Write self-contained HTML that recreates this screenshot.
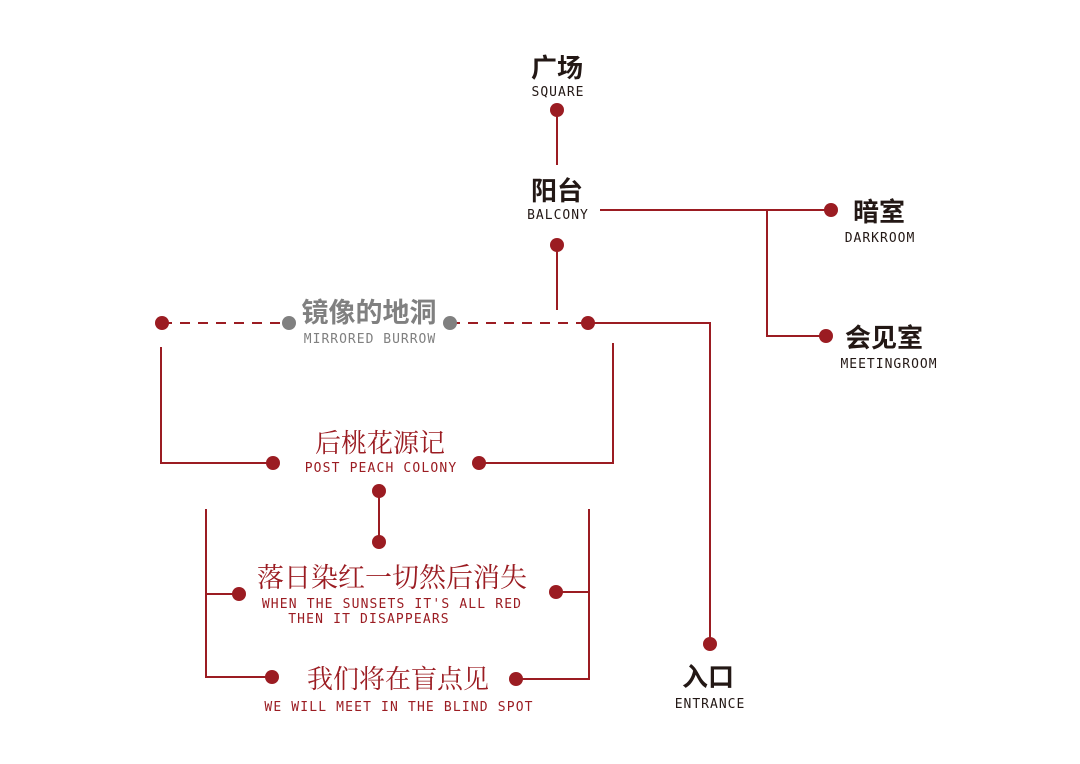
<!DOCTYPE html>
<html><head><meta charset="utf-8"><style>
html,body{margin:0;padding:0;background:#fff;}
svg{display:block;}
.cn{font-family:"Liberation Sans","Noto Sans CJK SC",sans-serif;font-weight:bold;fill:#231815;text-anchor:middle;}
.cr{font-family:"Liberation Serif","Noto Serif CJK SC",serif;fill:#9b1c22;text-anchor:middle;}
.en{font-family:"DejaVu Sans Mono","Liberation Mono",monospace;font-size:13px;fill:#231815;text-anchor:middle;letter-spacing:1px;}
.er{font-family:"DejaVu Sans Mono","Liberation Mono",monospace;font-size:13px;fill:#9b1c22;text-anchor:middle;letter-spacing:1.15px;}
</style></head><body>
<svg width="1080" height="764" viewBox="0 0 1080 764" xmlns="http://www.w3.org/2000/svg">
<g stroke="#9b1c22" stroke-width="2" fill="none">
<path d="M557 110V165"/>
<path d="M600 210H831M767 210V336H826"/>
<path d="M557 245V310"/>
<path d="M162 323H289M450 323H588" stroke-dasharray="10 8"/>
<path d="M588 323H710V644"/>
<path d="M161 347V463H273"/>
<path d="M613 343V463H479"/>
<path d="M379 491V542"/>
<path d="M206 509V677H272M206 594H239"/>
<path d="M589 509V679H516M589 592H556"/>
</g>
<g fill="#9b1c22">
<circle cx="557" cy="110" r="7"/><circle cx="557" cy="245" r="7"/>
<circle cx="831" cy="210" r="7"/><circle cx="826" cy="336" r="7"/>
<circle cx="162" cy="323" r="7"/><circle cx="588" cy="323" r="7"/>
<circle cx="710" cy="644" r="7"/>
<circle cx="273" cy="463" r="7"/><circle cx="479" cy="463" r="7"/>
<circle cx="379" cy="491" r="7"/><circle cx="379" cy="542" r="7"/>
<circle cx="239" cy="594" r="7"/><circle cx="272" cy="677" r="7"/>
<circle cx="556" cy="592" r="7"/><circle cx="516" cy="679" r="7"/>
</g>
<g fill="#808080"><circle cx="289" cy="323" r="7"/><circle cx="450" cy="323" r="7"/></g>

<text class="cn" x="557" y="77" font-size="26">广场</text>
<text class="en" x="558" y="96">SQUARE</text>
<text class="cn" x="557" y="200" font-size="26">阳台</text>
<text class="en" x="558" y="219">BALCONY</text>
<text class="cn" x="879" y="221" font-size="26">暗室</text>
<text class="en" x="880" y="242">DARKROOM</text>
<text class="cn" x="884" y="347" font-size="26">会见室</text>
<text class="en" x="889" y="368">MEETINGROOM</text>
<text class="cn" x="708" y="686" font-size="26">入口</text>
<text class="en" x="710" y="708">ENTRANCE</text>
<text class="cn" x="369" y="322" font-size="27" style="fill:#808080">镜像的地洞</text>
<text class="en" x="370" y="343" style="fill:#808080">MIRRORED BURROW</text>
<text class="cr" x="380" y="452" font-size="26">后桃花源记</text>
<text class="er" x="381" y="472">POST PEACH COLONY</text>
<text class="cr" x="392" y="587" font-size="27">落日染红一切然后消失</text>
<text class="er" x="392" y="608">WHEN THE SUNSETS IT'S ALL RED</text>
<text class="er" x="369" y="623">THEN IT DISAPPEARS</text>
<text class="cr" x="398" y="688" font-size="26">我们将在盲点见</text>
<text class="er" x="399" y="711">WE WILL MEET IN THE BLIND SPOT</text>
</svg>
</body></html>
